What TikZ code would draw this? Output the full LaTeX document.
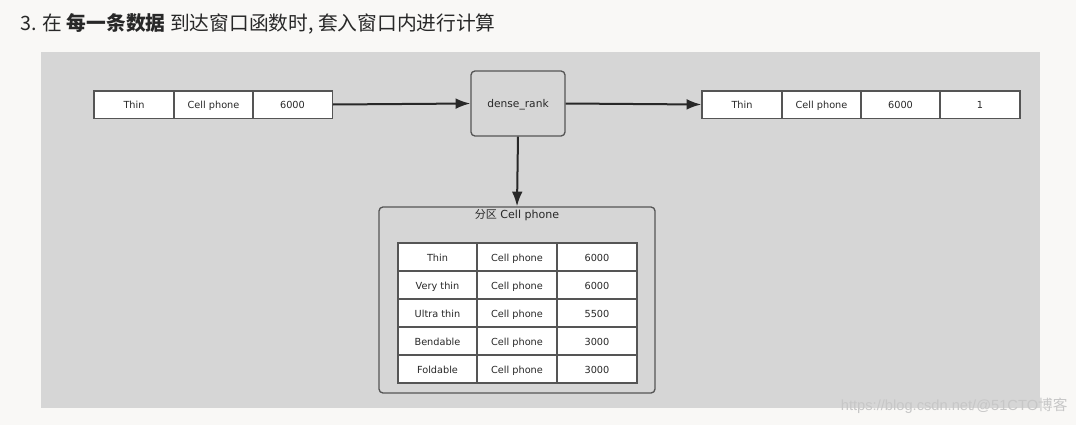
\documentclass[tikz,border=0pt]{standalone}
\usepackage{fontspec}
\setmainfont{DejaVu Sans}
\newfontfamily\cjk{Noto Sans CJK SC}
\newfontfamily\wmfont{Liberation Sans}
\usetikzlibrary{arrows.meta}

\definecolor{pagebg}{RGB}{249,248,246}
\definecolor{panelgrey}{RGB}{214,214,214}
\definecolor{edgegrey}{RGB}{85,85,85}
\definecolor{inkgrey}{RGB}{40,40,40}

\tikzset{every picture/.style={line width=0.75pt}}
\tikzset{
  cell/.style={draw=edgegrey,fill=white,line width=1pt,inner sep=0pt,
    minimum width=59.5pt,minimum height=20.5pt,font=\fontsize{7.3}{8}\selectfont,text=inkgrey,
    text height=1.6ex,text depth=0.4ex},
  tcell/.style={cell,minimum height=21pt},
  funcbox/.style={draw=edgegrey,fill=panelgrey,line width=1pt,rounded corners=3pt,
    minimum width=70.5pt,minimum height=48.75pt,font=\fontsize{8}{9}\selectfont,text=inkgrey,
    text height=1.6ex,text depth=0.4ex},
  flow/.style={-{Latex[length=11pt,width=8pt]},line width=1.5pt,draw=inkgrey}
}

\begin{document}
\begin{tikzpicture}[x=0.75pt,y=0.75pt,yscale=-1,xscale=1]
%background and panel
\fill [pagebg] (0,0) rectangle (1076,425);
\useasboundingbox (0,0) rectangle (1076,425);
\fill [panelgrey] (41,52) rectangle (1040,408);

% Text Node
\draw (20,24) node [anchor=west][inner sep=0pt] [text=inkgrey] (title) {\cjk\fontsize{14.8}{16}\selectfont 3. 在 \textbf{每一条数据} 到达窗口函数时, 套入窗口内进行计算};

%incoming row
\node [cell,minimum width=60pt] (in1) at (134,104.5) {Thin};
\node [cell] (in2) at (213.5,104.5) {Cell phone};
\node [cell] (in3) at (292.5,104.5) {6000};

%window function
\node [funcbox] (rank) at (518,103.5) {dense\_rank};

%result row
\node [cell,minimum width=60pt] (out1) at (742,104.5) {Thin};
\node [cell] (out2) at (821.5,104.5) {Cell phone};
\node [cell] (out3) at (900.5,104.5) {6000};
\node [cell,minimum width=60pt] (out4) at (980,104.5) {1};

%partition
\node [draw=edgegrey,fill=panelgrey,line width=1pt,rounded corners=3pt,
  minimum width=207pt,minimum height=139.5pt] (part) at (517,300) {};
% Text Node
\node [font=\fontsize{8.3}{9}\selectfont,text=inkgrey] (parttitle) at (517,215) {{\cjk 分区} Cell phone};

\foreach \name/\kind/\price [count=\i] in {Thin/Cell phone/6000,Very thin/Cell phone/6000,Ultra thin/Cell phone/5500,Bendable/Cell phone/3000,Foldable/Cell phone/3000}{
  \node [tcell] (r\i a) at (437.5,229+28*\i) {\name};
  \node [tcell,minimum width=60pt] (r\i b) at (517,229+28*\i) {\kind};
  \node [tcell,minimum width=60pt] (r\i c) at (597,229+28*\i) {\price};
}

%arrows
\draw [flow] (in3.east) -- (rank.west);
\draw [flow] (rank.east) -- (out1.west);
\draw [flow] (rank.south) -- (part.north);

% Text Node
\node [anchor=east,inner sep=0pt,text=black!22,font=\fontsize{11}{12}\selectfont] (mark) at (1068,406) {\wmfont https://blog.csdn.net/@51CTO{\cjk 博客}};

\end{tikzpicture}
\end{document}
